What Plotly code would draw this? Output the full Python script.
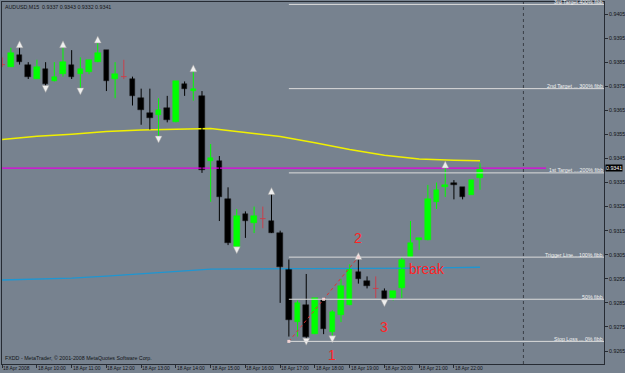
import plotly.graph_objects as go

# ---------------- data ----------------
symbol = "AUDUSD,M15"
bar_times = ["09:00","09:15","09:30","09:45","10:00","10:15","10:30","10:45",
             "11:00","11:15","11:30","11:45","12:00","12:15","12:30","12:45",
             "13:00","13:15","13:30","13:45","14:00","14:15","14:30","14:45",
             "15:00","15:15","15:30","15:45","16:00","16:15","16:30","16:45",
             "17:00","17:15","17:30","17:45","18:00","18:15","18:30","18:45",
             "19:00","19:15","19:30","19:45","20:00","20:15","20:30","20:45",
             "21:00","21:15","21:30","21:45","22:00","22:15","22:30","22:45"]
opens  = [.9384,.9383,.9388,.9384,.9378,.9382,.9377,.9380,.9384,.9380,.9381,.9385,.9390,.9378,.9379,.9378,
          .9370,.9364,.9363,.9366,.9360,.9376,.9373,.9371,.9344,.9344,.9328,.9308,.9322,.9318,.9320,.9319,
          .9314,.9299,.9277,.9284,.9272,.9286,.9273,.9280,.9284,.9298,.9294,.9291,.9290,.9287,.9291,.9304,
          .9311,.9311,.9327,.9333,.9335,.9333,.9330,.9337]
highs  = [.9387,.9391,.9392,.9385,.9386,.9385,.9385,.9392,.9390,.9387,.9386,.9394,.9390,.9385,.9386,.9379,
          .9374,.9374,.9370,.9371,.9377,.9377,.9382,.9373,.9351,.9346,.9333,.9324,.9323,.9325,.9325,.9331,
          .9315,.9303,.9286,.9297,.9287,.9287,.9282,.9295,.9301,.9304,.9296,.9296,.9291,.9290,.9304,.9319,
          .9312,.9334,.9335,.9342,.9336,.9333,.9336,.9343]
lows   = [.9383,.9383,.9384,.9378,.9378,.9374,.9377,.9379,.9378,.9373,.9380,.9385,.9373,.9370,.9378,.9367,
          .9359,.9357,.9353,.9360,.9360,.9371,.9369,.9339,.9327,.9319,.9309,.9307,.9312,.9314,.9316,.9314,
          .9285,.9271,.9271,.9269,.9272,.9272,.9270,.9277,.9284,.9293,.9291,.9287,.9285,.9286,.9287,.9304,
          .9307,.9311,.9324,.9329,.9328,.9328,.9330,.9332]
closes = [.9384,.9389,.9385,.9379,.9383,.9376,.9379,.9385,.9379,.9382,.9386,.9389,.9377,.9380,.9379,.9371,
          .9365,.9362,.9365,.9361,.9377,.9374,.9374,.9340,.9345,.9329,.9310,.9321,.9319,.9321,.9320,.9314,
          .9300,.9278,.9285,.9271,.9287,.9274,.9281,.9292,.9299,.9295,.9292,.9291,.9286,.9290,.9303,.9310,
          .9312,.9328,.9332,.9334,.9334,.9329,.9336,.9341]

fractal_up_bars   = ["09:30","10:45","11:45","14:30","16:45","19:15","21:45"]
fractal_down_bars = ["10:15","11:15","13:30","15:45","17:45","18:30","20:00"]

# moving averages, read hourly
ma_times   = ["09:00","10:00","11:00","12:00","13:00","14:00","15:00","16:00",
              "17:00","18:00","19:00","20:00","21:00","22:00","22:45"]
ma_yellow  = [.93529,.93542,.93551,.93562,.93568,.93572,.93574,.93558,
              .93541,.93515,.93487,.93463,.93448,.93443,.93440]
ma_blue    = [.92945,.92948,.92953,.92961,.92971,.92981,.92990,.92991,
              .92991,.92991,.92992,.92993,.92994,.92996,.92998]

# fibonacci object (anchors)
fib_t0, fib_low   = "17:15", 0.9269
fib_t1, fib_high  = "19:15", 0.9304
fib_levels = [0.0, 0.5, 1.0, 2.0, 3.0, 4.0]
fib_labels = ["Stop Loss ... 0% fibb", "50% fibb", "Trigger Line....100% fibb",
              "1st Target ....200% fibb", "2nd Target ... 300% fibb", "3rd Target 400% fibb"]

# hand drawn labels (time, price, text)
red_labels = [("19:15", 0.93119, "2"), ("18:30", 0.92633, "1"), ("20:00", 0.92749, "3")]
break_label = ("20:45", 0.92990, "break")

day_separator = "24:00"
hour_ticks = [9, 10, 11, 12, 13, 14, 15, 16, 17, 18, 19, 20, 21, 22]
hour_tick_text = ["18 Apr 2008"] + [f"18 Apr {h}:00" for h in hour_ticks[1:]]
price_ticks = [0.9265, 0.9275, 0.9285, 0.9295, 0.9305, 0.9315, 0.9325, 0.9335,
               0.9345, 0.9355, 0.9365, 0.9375, 0.9385, 0.9395, 0.9405]

# ---------------- helpers / style ----------------
def hrs(s):
    h, m = s.split(":")
    return int(h) + int(m) / 60.0

BG = "#77828F"
EDGE = "#262B33"
TXT = "#121418"
FONT = "Liberation Sans"
SMALL = 5.3
BODY_W = 0.16
XMIN, XMAX = 8.995, 8.995 + 602 / 34.75
YMIN, YMAX = 0.92596, 0.94100

t = [hrs(s) for s in bar_times]
fig = go.Figure()

# moving averages
fig.add_trace(go.Scatter(x=[hrs(s) for s in ma_times], y=ma_blue, mode="lines",
                         line=dict(color="#1E96D2", width=1.3), hoverinfo="skip"))
fig.add_trace(go.Scatter(x=[hrs(s) for s in ma_times], y=ma_yellow, mode="lines",
                         line=dict(color="#F0F000", width=1.5), hoverinfo="skip"))

# bid line
fig.add_trace(go.Scatter(x=[XMIN, 24.65], y=[closes[-1]] * 2, mode="lines",
                         line=dict(color="#E000E0", width=1.2), hoverinfo="skip"))

# candles
def wick_xy(sel):
    xs, ys = [], []
    for i in sel:
        xs += [t[i], t[i], None]
        ys += [lows[i], highs[i], None]
    return xs, ys

bull = [i for i in range(len(t)) if closes[i] > opens[i]]
bear = [i for i in range(len(t)) if closes[i] < opens[i]]
doji = [i for i in range(len(t)) if closes[i] == opens[i]]

for sel, col in ((bull, "#00FF00"), (bear, "#000000"), (doji, "#C8404C")):
    xs, ys = wick_xy(sel)
    fig.add_trace(go.Scatter(x=xs, y=ys, mode="lines", line=dict(color=col, width=1),
                             hoverinfo="skip"))

dx, dy = [], []
for i in doji:
    dx += [t[i] - BODY_W / 2, t[i] + BODY_W / 2, None]
    dy += [opens[i], opens[i], None]
fig.add_trace(go.Scatter(x=dx, y=dy, mode="lines", line=dict(color="#C8404C", width=1),
                         hoverinfo="skip"))

for sel, col, lc in ((bull, "#00FF00", "#00FF00"), (bear, "#000000", "#1A1A1A")):
    fig.add_trace(go.Bar(x=[t[i] for i in sel],
                         y=[abs(closes[i] - opens[i]) for i in sel],
                         base=[min(opens[i], closes[i]) for i in sel],
                         width=BODY_W, marker=dict(color=col, line=dict(color=lc, width=0.5)),
                         hoverinfo="skip"))

# fractals
up_idx = [bar_times.index(s) for s in fractal_up_bars]
dn_idx = [bar_times.index(s) for s in fractal_down_bars]
fig.add_trace(go.Scatter(x=[t[i] for i in up_idx], y=[highs[i] + 0.00019 for i in up_idx],
                         mode="markers", marker=dict(symbol="arrow-up", size=7, color="#EEEEEE",
                         line=dict(color="#9A9A9A", width=0.5)), hoverinfo="skip"))
fig.add_trace(go.Scatter(x=[t[i] for i in dn_idx], y=[lows[i] - 0.00016 for i in dn_idx],
                         mode="markers", marker=dict(symbol="arrow-down", size=7, color="#EEEEEE",
                         line=dict(color="#9A9A9A", width=0.5)), hoverinfo="skip"))

# fibonacci
f0, f1 = hrs(fib_t0), hrs(fib_t1)
rng = fib_high - fib_low
for lv, lab in zip(fib_levels, fib_labels):
    y = fib_low + lv * rng
    fig.add_trace(go.Scatter(x=[f0, XMAX], y=[y, y], mode="lines",
                             line=dict(color="#DCDCDC", width=1), hoverinfo="skip"))
    fig.add_annotation(x=1, xref="paper", y=y, yref="y", text=lab, showarrow=False,
                       xanchor="right", yanchor="middle", yshift=2.5, xshift=0, borderpad=0,
                       font=dict(family=FONT, size=SMALL, color="#F2F2F2"))
fig.add_trace(go.Scatter(x=[f0, f1], y=[fib_low, fib_high], mode="lines",
                         line=dict(color="#E03030", width=1, dash="dot"), hoverinfo="skip"))
fig.add_trace(go.Scatter(x=[f0, (f0 + f1) / 2, f1],
                         y=[fib_low, fib_low + 0.5 * rng, fib_high], mode="markers",
                         marker=dict(symbol="square", size=3, color="#F2D2D2"), hoverinfo="skip"))

# day separator
ds = hrs(day_separator)
fig.add_trace(go.Scatter(x=[ds, ds], y=[YMIN, YMAX], mode="lines",
                         line=dict(color="#3A3F47", width=1, dash="dot"), hoverinfo="skip"))

# red labels
for ts, py, txt in red_labels:
    fig.add_annotation(x=hrs(ts), y=py, text=txt, showarrow=False,
                       font=dict(family=FONT, size=14, color="#FF2424"))
fig.add_annotation(x=hrs(break_label[0]) - 0.1, y=break_label[1], text=break_label[2],
                   showarrow=False, xanchor="left",
                   font=dict(family=FONT, size=14, color="#FF2424"))

# time labels (left aligned at their tick, as in the terminal)
for hv, txt in zip(hour_ticks, hour_tick_text):
    fig.add_annotation(x=hv, xref="x", y=0, yref="paper", xanchor="left", yanchor="top",
                       yshift=0, xshift=-1, showarrow=False, text=txt,
                       font=dict(family=FONT, size=4.9, color=TXT))

# header / footer
o, h, l, c = opens[-1], highs[-1], lows[-1], closes[-1]
fig.add_annotation(x=0, xref="paper", y=1, yref="paper", xanchor="left", yanchor="top",
                   xshift=1, yshift=0, showarrow=False,
                   text=f"{symbol}  {o:.4f} {h:.4f} {l:.4f} {c:.4f}",
                   font=dict(family=FONT, size=SMALL, color=TXT))
fig.add_annotation(x=0, xref="paper", y=0, yref="paper", xanchor="left", yanchor="bottom",
                   xshift=1, yshift=1, showarrow=False,
                   text="FXDD - MetaTrader, © 2001-2008 MetaQuotes Software Corp.",
                   font=dict(family=FONT, size=SMALL, color=TXT))
# bid price box
fig.add_annotation(x=1, xref="paper", y=c, yref="y", xanchor="left", yanchor="middle",
                   xshift=1, showarrow=False, text=f"{c:.4f}", bgcolor="#000000",
                   borderpad=0, font=dict(family=FONT, size=SMALL, color="#FFFFFF"))

fig.update_layout(
    width=625, height=373, margin=dict(l=2, r=21, t=2, b=9, autoexpand=False),
    paper_bgcolor=BG, plot_bgcolor=BG, showlegend=False,
    barmode="overlay", bargap=0,
    xaxis=dict(range=[XMIN, XMAX], showgrid=False, zeroline=False, showline=True,
               linecolor=EDGE, linewidth=1, mirror=True, ticks="outside", ticklen=3,
               tickcolor=EDGE, tickvals=hour_ticks, showticklabels=False, automargin=False),
    yaxis=dict(range=[YMIN, YMAX], side="right", showgrid=False, zeroline=False,
               showline=True, linecolor=EDGE, linewidth=1, mirror=True, ticks="outside",
               ticklen=3, tickcolor=EDGE, tickvals=price_ticks, automargin=False,
               ticktext=[f"{p:.4f}" for p in price_ticks],
               tickfont=dict(family=FONT, size=SMALL, color=TXT)),
)
fig.write_html("out.html")
